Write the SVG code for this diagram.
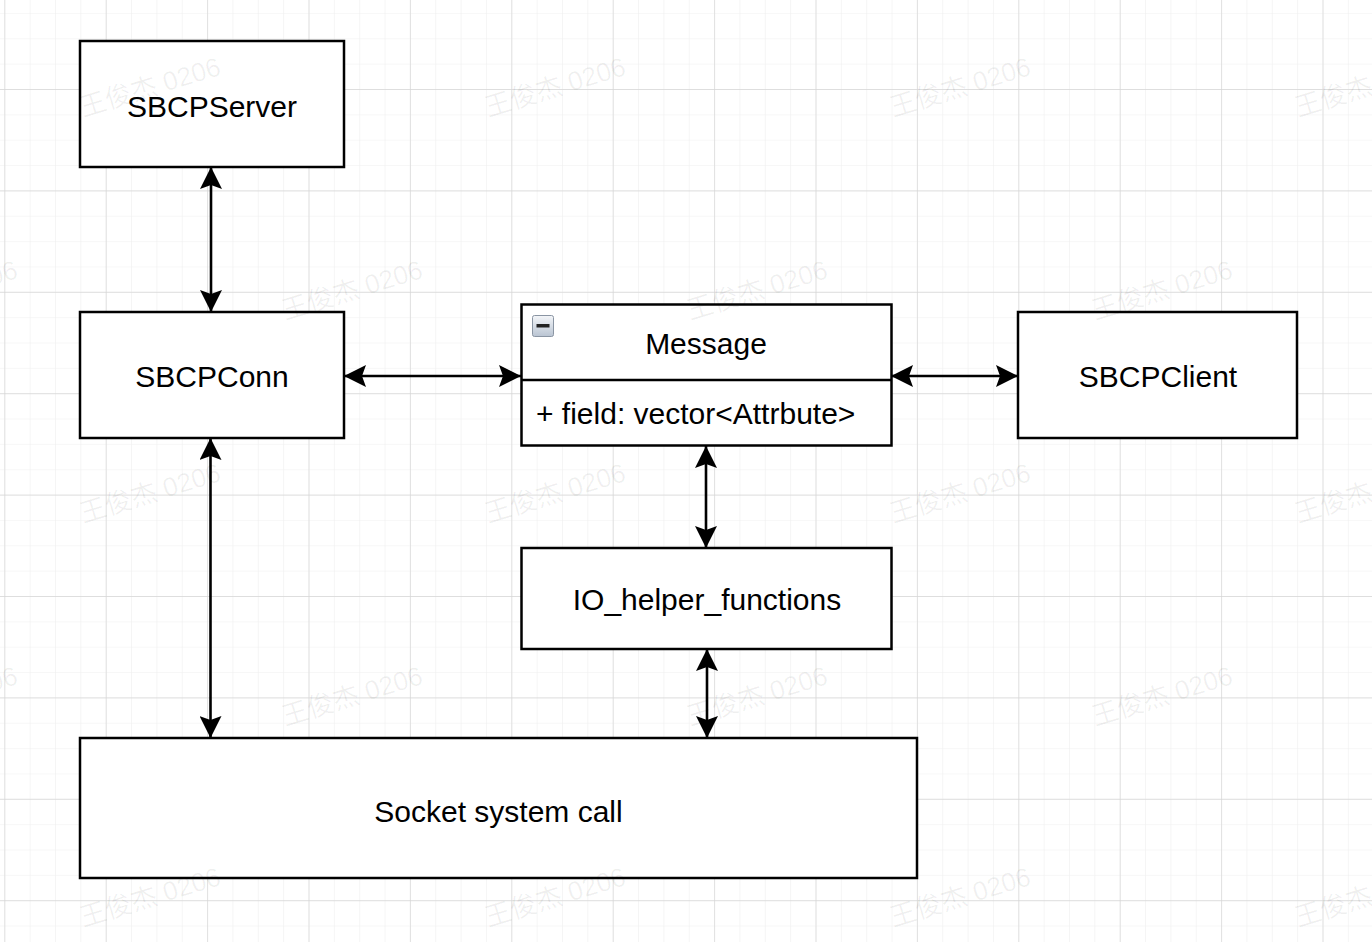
<svg xmlns="http://www.w3.org/2000/svg" width="1372" height="942" viewBox="0 0 1372 942">
<style>
.box{fill:#fff;stroke:#000;stroke-width:2.5}
.lbl{font-family:"Liberation Sans",Arial,sans-serif;font-size:30px;fill:#000}
.wm{font-family:"Liberation Sans","Noto Sans CJK SC",sans-serif;font-size:26.5px;fill:#000;fill-opacity:0.06}
.con{stroke:#000;stroke-width:2.6;fill:none;marker-start:url(#arr);marker-end:url(#arr)}
</style>
<defs>
<pattern id="minor" x="105.7" y="89" width="25.35" height="25.35" patternUnits="userSpaceOnUse">
<path d="M0,0 V25.35 M0,0 H25.35" stroke="#efefef" stroke-width="1.2" fill="none"/>
</pattern>
<pattern id="major" x="105.7" y="89" width="101.4" height="101.4" patternUnits="userSpaceOnUse">
<path d="M0,0 V101.4 M0,0 H101.4" stroke="#d6d6d6" stroke-width="1.3" fill="none"/>
</pattern>
<marker id="arr" viewBox="0 0 22 22" refX="22" refY="11" markerWidth="22" markerHeight="22" markerUnits="userSpaceOnUse" orient="auto-start-reverse">
<path d="M0,0 L22,11 L0,22 L4,11 Z" fill="#000"/>
</marker>
<linearGradient id="ig" x1="0" y1="0" x2="0" y2="1">
<stop offset="0" stop-color="#f4f6f9"/>
<stop offset="1" stop-color="#b9c4d2"/>
</linearGradient>
</defs>
<rect width="1372" height="942" fill="#fff"/>
<rect width="1372" height="942" fill="url(#minor)"/>
<rect width="1372" height="942" fill="url(#major)"/>
<g id="connectors">
<line class="con" x1="211" y1="167" x2="211" y2="312"/>
<line class="con" x1="344" y1="376" x2="521" y2="376"/>
<line class="con" x1="891" y1="376" x2="1018" y2="376"/>
<line class="con" x1="706" y1="446" x2="706" y2="548"/>
<line class="con" x1="707" y1="649" x2="707" y2="738"/>
<line class="con" x1="210.5" y1="438" x2="210.5" y2="738"/>
</g>
<g id="SBCPServer">
<rect class="box" x="80" y="41" width="264" height="126"/>
<text class="lbl" x="212" y="117" text-anchor="middle">SBCPServer</text>
</g>
<g id="SBCPConn">
<rect class="box" x="80" y="312" width="264" height="126"/>
<text class="lbl" x="212" y="387" text-anchor="middle">SBCPConn</text>
</g>
<g id="Message">
<rect class="box" x="521.5" y="304.5" width="370" height="141"/>
<line x1="521.5" y1="380" x2="891.5" y2="380" stroke="#000" stroke-width="2.5"/>
<rect x="532.5" y="315.5" width="21" height="21" rx="2" fill="url(#ig)" stroke="#8a95a3" stroke-width="1"/>
<rect x="536.5" y="324" width="13" height="3.5" fill="#222"/>
<text class="lbl" x="706" y="354" text-anchor="middle">Message</text>
<text class="lbl" x="536" y="424">+ field: vector&lt;Attrbute&gt;</text>
</g>
<g id="SBCPClient">
<rect class="box" x="1018" y="312" width="279" height="126"/>
<text class="lbl" x="1158" y="387" text-anchor="middle">SBCPClient</text>
</g>
<g id="IO_helper_functions">
<rect class="box" x="521.5" y="548" width="370" height="101"/>
<text class="lbl" x="707" y="610" text-anchor="middle">IO_helper_functions</text>
</g>
<g id="Socket">
<rect class="box" x="80" y="738" width="837" height="140"/>
<text class="lbl" x="498.5" y="822" text-anchor="middle">Socket system call</text>
</g>
<g id="watermark">
<text class="wm" transform="translate(83,117) rotate(-17)">王俊杰 0206</text>
<text class="wm" transform="translate(488,117) rotate(-17)">王俊杰 0206</text>
<text class="wm" transform="translate(893,117) rotate(-17)">王俊杰 0206</text>
<text class="wm" transform="translate(1298,117) rotate(-17)">王俊杰 0206</text>
<text class="wm" transform="translate(-120,320) rotate(-17)">王俊杰 0206</text>
<text class="wm" transform="translate(285,320) rotate(-17)">王俊杰 0206</text>
<text class="wm" transform="translate(690,320) rotate(-17)">王俊杰 0206</text>
<text class="wm" transform="translate(1095,320) rotate(-17)">王俊杰 0206</text>
<text class="wm" transform="translate(83,523) rotate(-17)">王俊杰 0206</text>
<text class="wm" transform="translate(488,523) rotate(-17)">王俊杰 0206</text>
<text class="wm" transform="translate(893,523) rotate(-17)">王俊杰 0206</text>
<text class="wm" transform="translate(1298,523) rotate(-17)">王俊杰 0206</text>
<text class="wm" transform="translate(-120,726) rotate(-17)">王俊杰 0206</text>
<text class="wm" transform="translate(285,726) rotate(-17)">王俊杰 0206</text>
<text class="wm" transform="translate(690,726) rotate(-17)">王俊杰 0206</text>
<text class="wm" transform="translate(1095,726) rotate(-17)">王俊杰 0206</text>
<text class="wm" transform="translate(83,927) rotate(-17)">王俊杰 0206</text>
<text class="wm" transform="translate(488,927) rotate(-17)">王俊杰 0206</text>
<text class="wm" transform="translate(893,927) rotate(-17)">王俊杰 0206</text>
<text class="wm" transform="translate(1298,927) rotate(-17)">王俊杰 0206</text>
</g>
</svg>
